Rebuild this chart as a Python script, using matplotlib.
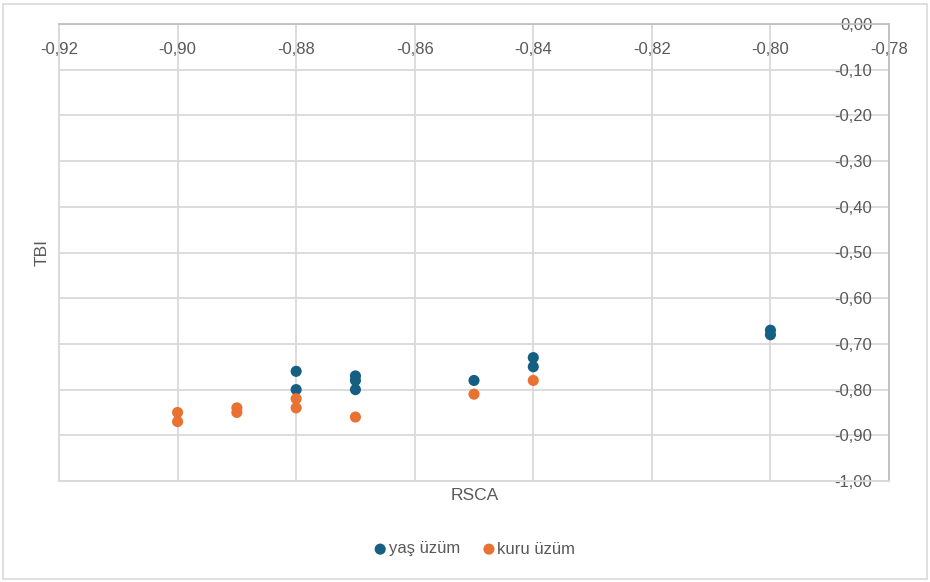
import matplotlib.pyplot as plt
from matplotlib.patches import Rectangle
from matplotlib.ticker import FuncFormatter, MultipleLocator

plt.rcParams['font.family'] = ['Liberation Sans', 'DejaVu Sans']

# yaş üzüm (fresh grapes)
yas_rsca = [-0.88, -0.88, -0.87, -0.87, -0.87, -0.85, -0.84, -0.84, -0.80, -0.80]
yas_tbi = [-0.76, -0.80, -0.77, -0.78, -0.80, -0.78, -0.73, -0.75, -0.67, -0.68]

# kuru üzüm (raisins)
kuru_rsca = [-0.90, -0.90, -0.89, -0.89, -0.88, -0.88, -0.87, -0.85, -0.84]
kuru_tbi = [-0.85, -0.87, -0.84, -0.85, -0.82, -0.84, -0.86, -0.81, -0.78]

blue = '#156082'
orange = '#E97132'
grey_txt = '#595959'
grid_col = '#d9d9d9'

fig = plt.figure(figsize=(9.3, 5.82), dpi=100)
ax = fig.add_axes([59 / 930, 1 - 481 / 582, (889 - 59) / 930, (481 - 24) / 582])

ax.scatter(yas_rsca, yas_tbi, s=64, color=blue, label='yaş üzüm', zorder=3, edgecolors='none')
ax.scatter(kuru_rsca, kuru_tbi, s=64, color=orange, label='kuru üzüm', zorder=3, edgecolors='none')

ax.set_xlim(-0.92, -0.78)
ax.set_ylim(-1.0, 0.0)
ax.xaxis.set_major_locator(MultipleLocator(0.02))
ax.yaxis.set_major_locator(MultipleLocator(0.1))
comma = FuncFormatter(lambda v, p: f'{v:.2f}'.replace('.', ',').replace('-0,00', '0,00'))
ax.xaxis.set_major_formatter(comma)
ax.yaxis.set_major_formatter(comma)

ax.grid(True, color=grid_col, linewidth=1.3, zorder=0)
ax.set_axisbelow(True)
for name, sp in ax.spines.items():
    sp.set_color(grid_col)
    sp.set_linewidth(1.3)
ax.spines['top'].set_color('#bfbfbf')
ax.spines['right'].set_color('#bfbfbf')

# x labels under the top axis line, y labels left of the right axis line
ax.xaxis.tick_top()
ax.yaxis.tick_right()
ax.tick_params(axis='both', length=0, labelsize=12, labelcolor=grey_txt)
ax.tick_params(axis='x', pad=-13)
ax.tick_params(axis='y', pad=-12)
for lb in ax.get_xticklabels():
    lb.set_va('top')
for lb in ax.get_yticklabels():
    lb.set_ha('right')

fig.text(42 / 930, 1 - 252 / 582, 'TBI', rotation=90, ha='center', va='center',
         fontsize=12.5, color=grey_txt)
fig.text(475 / 930, 1 - 495 / 582, 'RSCA', ha='center', va='center',
         fontsize=12.5, color=grey_txt)

fig.legend(loc='center', bbox_to_anchor=(474 / 930, 1 - 549 / 582), ncol=2,
           frameon=False, fontsize=12, labelcolor=grey_txt, handletextpad=0.05,
           handlelength=0.9, columnspacing=1.3, markerscale=1.0)

fig.patches.append(Rectangle((3 / 930, 3 / 582), 924 / 930, 575 / 582,
                             transform=fig.transFigure, fill=False,
                             edgecolor=grid_col, linewidth=1.2))

fig.savefig('out.png', dpi=100)
